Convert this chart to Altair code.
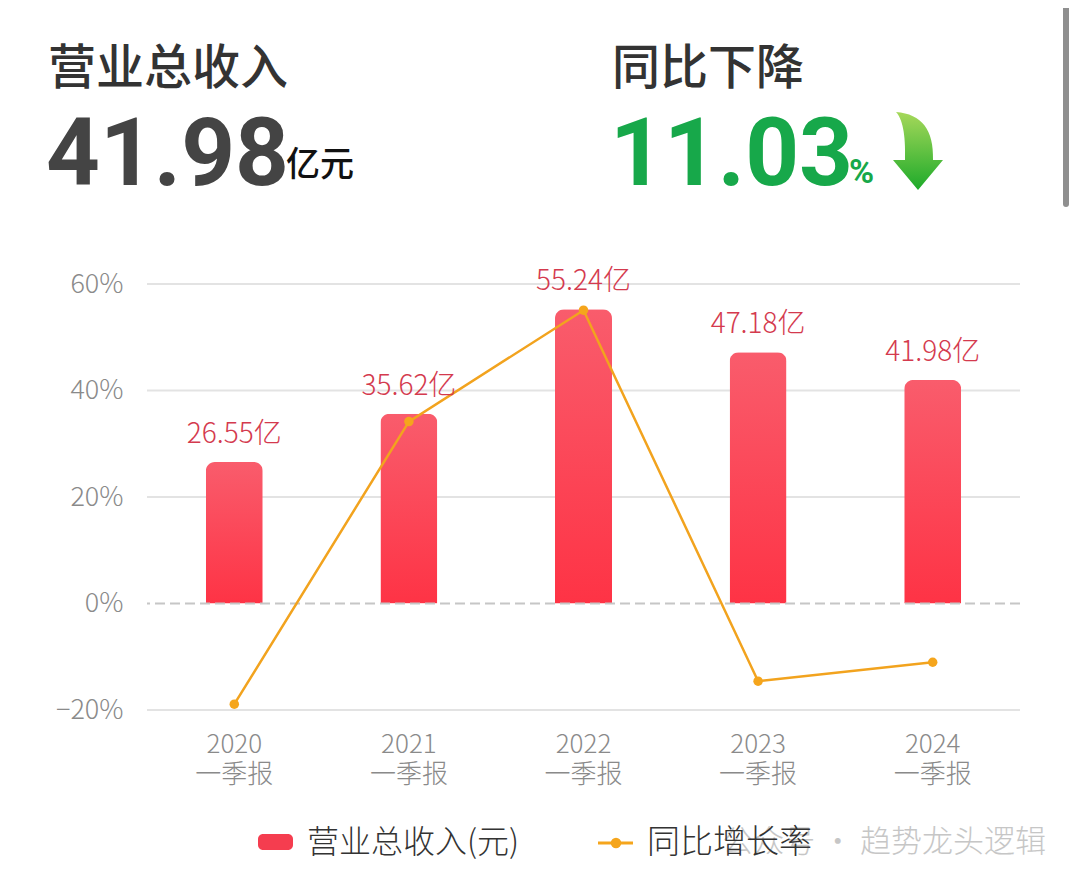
import altair as alt
import pandas as pd

# ---- data ----
periods = ["2020", "2021", "2022", "2023", "2024"]
revenue = [26.55, 35.62, 55.24, 47.18, 41.98]          # 亿元
growth = [-18.9, 34.16, 55.08, -14.59, -11.03]         # %
bar_labels = [f"{v:.2f}亿" for v in revenue]
grid_values = [-20, 20, 40, 60]
tick_values = [-20, 0, 20, 40, 60]

df = pd.DataFrame({"period": periods, "revenue": revenue, "growth": growth, "label": bar_labels})

W, H = 873, 426
CJK = "Noto Sans CJK SC"
NUM = "Roboto"

yscale = alt.Scale(domain=[-20, 60], nice=False, zero=False)
xscale = alt.Scale(paddingInner=0, paddingOuter=0)

yaxis = alt.Axis(title=None, values=tick_values, grid=False, domain=False, ticks=False,
                 labelExpr="datum.value < 0 ? '\u221220%' : datum.value + '%'",
                 labelFont=CJK, labelFontSize=27, labelFontWeight=300, labelColor="#8a8a8a",
                 labelPadding=24)

xenc = alt.X("period:N", scale=xscale, sort=periods,
             axis=alt.Axis(title=None, domain=False, ticks=False, labelAngle=0,
                           labelExpr="[datum.label, '一季报']", labelFont=CJK,
                           labelFontSize=26, labelFontWeight=300, labelColor="#8a8a8a",
                           labelPadding=21, labelLineHeight=30))

base = alt.Chart(df)

grid = alt.Chart(pd.DataFrame({"v": grid_values})).mark_rule(
    color="#e3e3e3", strokeWidth=2).encode(
    y=alt.Y("v:Q", scale=yscale, axis=yaxis))

bar_grad = alt.Gradient(gradient="linear",
                        stops=[alt.GradientStop(color="#f95c6c", offset=0),
                               alt.GradientStop(color="#fe3345", offset=1)],
                        x1=0, x2=0, y1=0, y2=1)

bars = base.mark_bar(size=57, cornerRadiusTopLeft=9, cornerRadiusTopRight=9,
                     color=bar_grad).encode(
    x=xenc, y=alt.Y("revenue:Q", scale=yscale, axis=yaxis))

zero = alt.Chart(pd.DataFrame({"v": [0]})).mark_rule(
    color="#c6c6c6", strokeWidth=2, strokeDash=[10, 5]).encode(
    y=alt.Y("v:Q", scale=yscale, axis=yaxis))

line = base.mark_line(color="#f2a31e", strokeWidth=2.5).encode(
    x=xenc, y=alt.Y("growth:Q", scale=yscale, axis=yaxis))
pts = base.mark_point(color="#f5a51c", filled=True, size=90, opacity=1).encode(
    x=xenc, y=alt.Y("growth:Q", scale=yscale, axis=yaxis))

labels = base.mark_text(font=CJK, fontSize=28, fontWeight=300, color="#d43a4e",
                        baseline="middle", dy=-27).encode(
    x=xenc, y=alt.Y("revenue:Q", scale=yscale, axis=yaxis), text="label:N")

# ---- header and legend (decoration) ----
one = pd.DataFrame({"a": [0]})

def txt(s, x, y, **kw):
    return alt.Chart(one).mark_text(align="left", **kw).encode(
        x=alt.value(x), y=alt.value(y), text=alt.value(s))

h1 = txt("营业总收入", -99, -214, font=CJK, fontSize=48, fontWeight=500, color="#333333", baseline="middle")
h2 = txt("41.98", -101, -99, font=NUM, fontSize=94, fontWeight="bold", color="#444444", baseline="alphabetic")
h3 = txt("亿元", 139, -108, font=CJK, fontSize=34, fontWeight=500, color="#111111", baseline="alphabetic")
h4 = txt("同比下降", 465, -214, font=CJK, fontSize=48, fontWeight=500, color="#333333", baseline="middle")
h5 = txt("11.03", 463, -99, font=NUM, fontSize=94, fontWeight="bold", color="#17a84a", baseline="alphabetic")
h6 = txt("%", 702, -101, font=NUM, fontSize=34, fontWeight="bold", color="#17a84a", baseline="alphabetic")

arrow_grad = alt.Gradient(gradient="linear",
                          stops=[alt.GradientStop(color="#a6d85a", offset=0),
                                 alt.GradientStop(color="#1daa2a", offset=1)],
                          x1=0, x2=0, y1=0, y2=1)
arrow = alt.Chart(one).mark_point(
    shape="M -0.55 -0.95 C 0.1 -0.9 0.4 -0.5 0.375 0.25 L 0.625 0.25 L 0 1 L -0.625 0.25 L -0.325 0.25 C -0.3 -0.4 -0.4 -0.8 -0.55 -0.95 Z",
    size=6400, filled=True, fill=arrow_grad, strokeWidth=0, opacity=1).encode(
    x=alt.value(771), y=alt.value(-134))

scroll = alt.Chart(one).mark_rule(color="#8f8f8f", strokeWidth=6, strokeCap="round").encode(
    x=alt.value(919), y=alt.value(-278), y2=alt.value(-80))

leg_rect = alt.Chart(one).mark_rect(color="#f53d4f", cornerRadius=5).encode(
    x=alt.value(111), x2=alt.value(146), y=alt.value(550), y2=alt.value(566))
leg_t1 = txt("营业总收入(元)", 160, 559, font=CJK, fontSize=32, fontWeight=300, color="#333333", baseline="middle")
leg_line = alt.Chart(one).mark_rule(color="#f5a51c", strokeWidth=3).encode(
    x=alt.value(451), x2=alt.value(486), y=alt.value(559))
leg_pt = alt.Chart(one).mark_point(color="#f5a51c", filled=True, size=110, shape="circle", opacity=1).encode(
    x=alt.value(469), y=alt.value(559))
leg_t2 = txt("同比增长率", 500, 559, font=CJK, fontSize=33, fontWeight=300, color="#333333", baseline="middle")
watermark = alt.Chart(one).mark_text(align="right", baseline="middle", font=CJK, fontSize=31,
                                     fontWeight=300, color="#bdbdbd", opacity=0.85).encode(
    x=alt.value(899), y=alt.value(559), text=alt.value("公众号 · 趋势龙头逻辑"))

chart = alt.layer(
    grid, bars, zero, line, pts, labels,
    h1, h2, h3, h4, h5, h6, arrow, scroll,
    watermark, leg_rect, leg_t1, leg_line, leg_pt, leg_t2
).properties(
    width=W, height=H,
    padding={"left": 139, "top": 276, "right": 52, "bottom": 172},
    autosize=alt.AutoSizeParams(type="none"),
    background="white",
).configure_view(stroke=None)

chart.save("out.html", embed_options={"renderer": "svg", "actions": False})
